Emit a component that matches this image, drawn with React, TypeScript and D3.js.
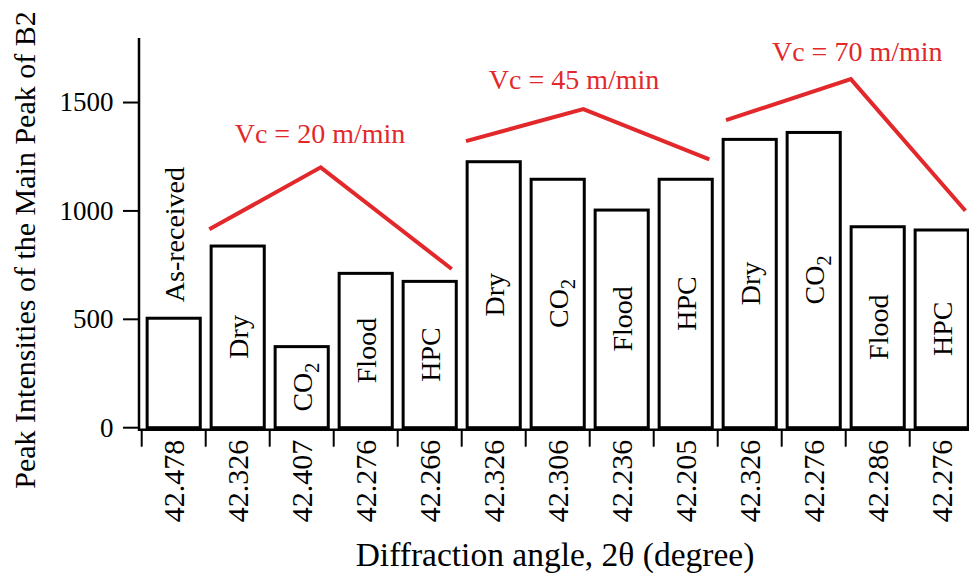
import React from "react";
import * as d3 from "d3";

// Diffraction angle of the B2 main peak for each sample
const angleLabels = [
  "42.478", "42.326", "42.407", "42.276", "42.266",
  "42.326", "42.306", "42.236", "42.205",
  "42.326", "42.276", "42.286", "42.276",
];

// Cooling condition of each sample
const conditions = [
  "As-received", "Dry", "CO2", "Flood", "HPC",
  "Dry", "CO2", "Flood", "HPC",
  "Dry", "CO2", "Flood", "HPC",
];

// Peak intensity of the B2 main peak
const intensities = [505, 838, 374, 712, 675, 1227, 1146, 1004, 1146, 1330, 1362, 927, 912];

const yTicks = [0, 500, 1000, 1500];

// Cutting-speed groups: label text, label anchor (band position, value) and bracket polyline
const speedLabels = ["Vc = 20 m/min", "Vc = 45 m/min", "Vc = 70 m/min"];
const speedLabelAnchors: [number, number][] = [
  [2.786, 1315],
  [6.755, 1561],
  [11.18, 1691],
];
const speedBrackets: [number, number][][] = [
  [[1.056, 915], [2.797, 1201], [4.844, 732]],
  [[5.067, 1322], [6.9, 1470], [8.869, 1238]],
  [[9.13, 1419], [11.08, 1608], [12.87, 1001]],
];

const W = 969;
const H = 580;
const FONT = "'Liberation Serif', 'Times New Roman', Times, serif";
const RED = "#e3282b";

export default function App() {
  const n = intensities.length;
  const x0 = 141.7;
  const step = 64;
  const idx = d3.range(n);

  const xBand = d3
    .scaleBand<number>()
    .domain(idx)
    .range([x0, x0 + n * step])
    .paddingInner(0.17)
    .paddingOuter(0.085);
  const pos = d3.scaleLinear().domain([0, n]).range([x0, x0 + n * step]);
  const y = d3.scaleLinear().domain([0, 1800]).range([427.7, 37.5]);

  const line = d3
    .line<[number, number]>()
    .x((d) => pos(d[0]))
    .y((d) => y(d[1]));

  const axisX = 139;
  const axisY = y(0) + 2;
  const bw = xBand.bandwidth();

  return (
    <svg
      width={W}
      height={H}
      viewBox={`0 0 ${W} ${H}`}
      style={{ position: "absolute", left: 0, top: 0, background: "#fff" }}
      fontFamily={FONT}
    >
      <rect x={0} y={0} width={W} height={H} fill="#fff" />

      {/* bars */}
      {idx.map((i) => (
        <rect
          key={`bar-${i}`}
          x={xBand(i)}
          y={y(intensities[i])}
          width={bw}
          height={y(0) - y(intensities[i])}
          fill="#fff"
          stroke="#000"
          strokeWidth={3}
        />
      ))}

      {/* condition labels */}
      {idx.map((i) => {
        const cx = (xBand(i) as number) + bw / 2;
        const isBase = conditions[i] === "As-received";
        const cy = isBase ? y(intensities[i]) - 16 : (y(intensities[i]) + y(0)) / 2;
        const label = conditions[i];
        return (
          <text
            key={`cond-${i}`}
            transform={`translate(${cx},${cy}) rotate(-90)`}
            textAnchor={isBase ? "start" : "middle"}
            dy="0.35em"
            fontSize={28}
            fill="#000"
          >
            {label === "CO2" ? (
              <>
                CO
                <tspan dy={7} fontSize={20}>2</tspan>
              </>
            ) : (
              label
            )}
          </text>
        );
      })}

      {/* y axis */}
      <line x1={axisX} x2={axisX} y1={38} y2={axisY + 1} stroke="#000" strokeWidth={2.5} />
      {yTicks.map((t) => (
        <g key={`yt-${t}`}>
          <line x1={axisX - 16} x2={axisX} y1={y(t)} y2={y(t)} stroke="#000" strokeWidth={2} />
          <text x={113.5} y={y(t)} dy="0.33em" textAnchor="end" fontSize={27} fill="#000">
            {t}
          </text>
        </g>
      ))}

      {/* x axis */}
      <line x1={axisX - 1} x2={W} y1={axisY} y2={axisY} stroke="#000" strokeWidth={2.5} />
      {idx.map((i) => (
        <line
          key={`xt-${i}`}
          x1={pos(i)}
          x2={pos(i)}
          y1={axisY}
          y2={axisY + 17}
          stroke="#000"
          strokeWidth={2}
        />
      ))}
      {idx.map((i) => (
        <text
          key={`xl-${i}`}
          transform={`translate(${pos(i + 0.5)},${axisY + 10}) rotate(-90)`}
          textAnchor="end"
          dy="0.35em"
          fontSize={30}
          fill="#000"
        >
          {angleLabels[i]}
        </text>
      ))}

      {/* axis titles */}
      <text x={555} y={566} textAnchor="middle" fontSize={33.5} fill="#000">
        Diffraction angle, 2θ (degree)
      </text>
      <text
        transform={`translate(35,250) rotate(-90)`}
        textAnchor="middle"
        fontSize={30}
        fill="#000"
      >
        Peak Intensities of the Main Peak of B2
      </text>

      {/* cutting-speed brackets */}
      {speedBrackets.map((pts, k) => (
        <path key={`br-${k}`} d={line(pts) as string} fill="none" stroke={RED} strokeWidth={4} />
      ))}
      {speedLabels.map((s, k) => (
        <text
          key={`sl-${k}`}
          x={pos(speedLabelAnchors[k][0])}
          y={y(speedLabelAnchors[k][1])}
          textAnchor="middle"
          fontSize={28}
          fill={RED}
        >
          {s}
        </text>
      ))}
    </svg>
  );
}
